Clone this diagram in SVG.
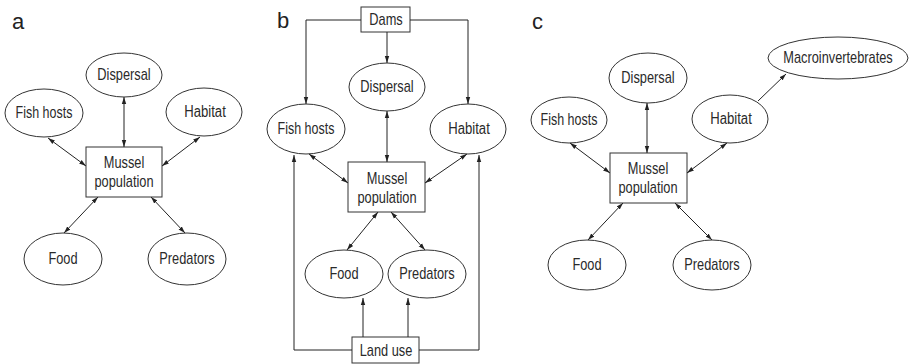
<svg xmlns="http://www.w3.org/2000/svg" width="911" height="364" viewBox="0 0 911 364">
<style>
.n ellipse,.n rect{fill:#fff;stroke:#333;stroke-width:1}
.t{font-family:"Liberation Sans",Arial,sans-serif;font-size:16px;fill:#2a2a2a;text-anchor:middle}
.lbl{font-family:"Liberation Sans",Arial,sans-serif;font-size:22px;fill:#222}
.c line,.c path{stroke:#222;stroke-width:1;fill:none}
.d{marker-start:url(#ah);marker-end:url(#ah)}
.s{marker-end:url(#ah)}
</style>
<defs>
<marker id="ah" markerUnits="userSpaceOnUse" markerWidth="8" markerHeight="6" refX="7" refY="3" orient="auto-start-reverse"><path d="M0,0.8 L7,3 L0,5.2 z" fill="#222"/></marker>
</defs>
<text class="lbl" x="12" y="29">a</text>
<text class="lbl" x="277" y="28">b</text>
<text class="lbl" x="532" y="29">c</text>

<!-- panel a -->
<g class="n" id="a-dispersal"><ellipse cx="124" cy="75" rx="38" ry="22"/><text class="t" transform="translate(124 80) scale(0.8 1)">Dispersal</text></g>
<g class="n" id="a-fishhosts"><ellipse cx="44" cy="113" rx="39" ry="24"/><text class="t" transform="translate(44 118) scale(0.78 1)">Fish hosts</text></g>
<g class="n" id="a-habitat"><ellipse cx="204" cy="112" rx="38" ry="24"/><text class="t" transform="translate(205 117) scale(0.82 1)">Habitat</text></g>
<g class="n" id="a-mussel"><rect x="86" y="147" width="76" height="50"/><text class="t" transform="translate(124 168) scale(0.8 1)">Mussel</text><text class="t" transform="translate(124 187) scale(0.8 1)">population</text></g>
<g class="n" id="a-food"><ellipse cx="63" cy="259" rx="39" ry="26"/><text class="t" transform="translate(63 264) scale(0.8 1)">Food</text></g>
<g class="n" id="a-predators"><ellipse cx="187" cy="259" rx="39" ry="26"/><text class="t" transform="translate(187 264) scale(0.8 1)">Predators</text></g>

<!-- panel b -->
<g class="n" id="b-dams"><rect x="361" y="7" width="49" height="25"/><text class="t" transform="translate(386 25) scale(0.8 1)">Dams</text></g>
<g class="n" id="b-dispersal"><ellipse cx="387" cy="87" rx="38" ry="24"/><text class="t" transform="translate(387 92) scale(0.8 1)">Dispersal</text></g>
<g class="n" id="b-fishhosts"><ellipse cx="306" cy="129" rx="39" ry="25"/><text class="t" transform="translate(306 134) scale(0.78 1)">Fish hosts</text></g>
<g class="n" id="b-habitat"><ellipse cx="468" cy="129" rx="38" ry="25"/><text class="t" transform="translate(469 134) scale(0.82 1)">Habitat</text></g>
<g class="n" id="b-mussel"><rect x="348" y="162" width="77" height="50"/><text class="t" transform="translate(387 184) scale(0.8 1)">Mussel</text><text class="t" transform="translate(387 203) scale(0.8 1)">population</text></g>
<g class="n" id="b-food"><ellipse cx="344" cy="274" rx="39" ry="24"/><text class="t" transform="translate(344 279) scale(0.8 1)">Food</text></g>
<g class="n" id="b-predators"><ellipse cx="427" cy="274" rx="39" ry="24"/><text class="t" transform="translate(427 279) scale(0.8 1)">Predators</text></g>
<g class="n" id="b-landuse"><rect x="352" y="337" width="67" height="26"/><text class="t" transform="translate(386 356) scale(0.8 1)">Land use</text></g>

<!-- panel c -->
<g class="n" id="c-macro"><ellipse cx="838" cy="58" rx="70" ry="21"/><text class="t" transform="translate(838 63) scale(0.8 1)">Macroinvertebrates</text></g>
<g class="n" id="c-dispersal"><ellipse cx="648" cy="78" rx="39" ry="25"/><text class="t" transform="translate(648 83) scale(0.8 1)">Dispersal</text></g>
<g class="n" id="c-fishhosts"><ellipse cx="569" cy="120" rx="38" ry="23"/><text class="t" transform="translate(569 125) scale(0.78 1)">Fish hosts</text></g>
<g class="n" id="c-habitat"><ellipse cx="730" cy="119" rx="38" ry="24"/><text class="t" transform="translate(731 124) scale(0.82 1)">Habitat</text></g>
<g class="n" id="c-mussel"><rect x="610" y="153" width="77" height="50"/><text class="t" transform="translate(648 174) scale(0.8 1)">Mussel</text><text class="t" transform="translate(648 193) scale(0.8 1)">population</text></g>
<g class="n" id="c-food"><ellipse cx="587" cy="265" rx="39" ry="25"/><text class="t" transform="translate(587 270) scale(0.8 1)">Food</text></g>
<g class="n" id="c-predators"><ellipse cx="712" cy="265" rx="39" ry="25"/><text class="t" transform="translate(712 270) scale(0.8 1)">Predators</text></g>

<g class="c" id="connectors">
<!-- a -->
<line class="d" x1="124" y1="97" x2="124" y2="147"/>
<line class="d" x1="48" y1="138" x2="86" y2="166"/>
<line class="d" x1="200" y1="137" x2="162" y2="166"/>
<line class="d" x1="98" y1="197" x2="64" y2="233"/>
<line class="d" x1="151" y1="197" x2="185" y2="233"/>
<!-- b -->
<path class="s" d="M361,20 H306 V104"/>
<path class="s" d="M410,20 H468 V104"/>
<line class="s" x1="387" y1="32" x2="387" y2="63"/>
<line class="d" x1="387" y1="111" x2="387" y2="162"/>
<line class="d" x1="309" y1="154" x2="348" y2="183"/>
<line class="d" x1="467" y1="154" x2="425" y2="183"/>
<path class="s" d="M352,350 H294 V155"/>
<path class="s" d="M419,350 H479 V155"/>
<line class="d" x1="378" y1="212" x2="347" y2="250"/>
<line class="d" x1="391" y1="212" x2="425" y2="250"/>
<line class="s" x1="363" y1="337" x2="363" y2="298"/>
<line class="s" x1="408" y1="337" x2="408" y2="298"/>
<!-- c -->
<line class="d" x1="647" y1="103" x2="647" y2="153"/>
<line class="d" x1="570" y1="143" x2="610" y2="173"/>
<line class="d" x1="727" y1="143" x2="687" y2="173"/>
<line class="s" x1="758" y1="101" x2="786" y2="74"/>
<line class="d" x1="623" y1="203" x2="588" y2="240"/>
<line class="d" x1="675" y1="203" x2="712" y2="240"/>
</g>
</svg>
